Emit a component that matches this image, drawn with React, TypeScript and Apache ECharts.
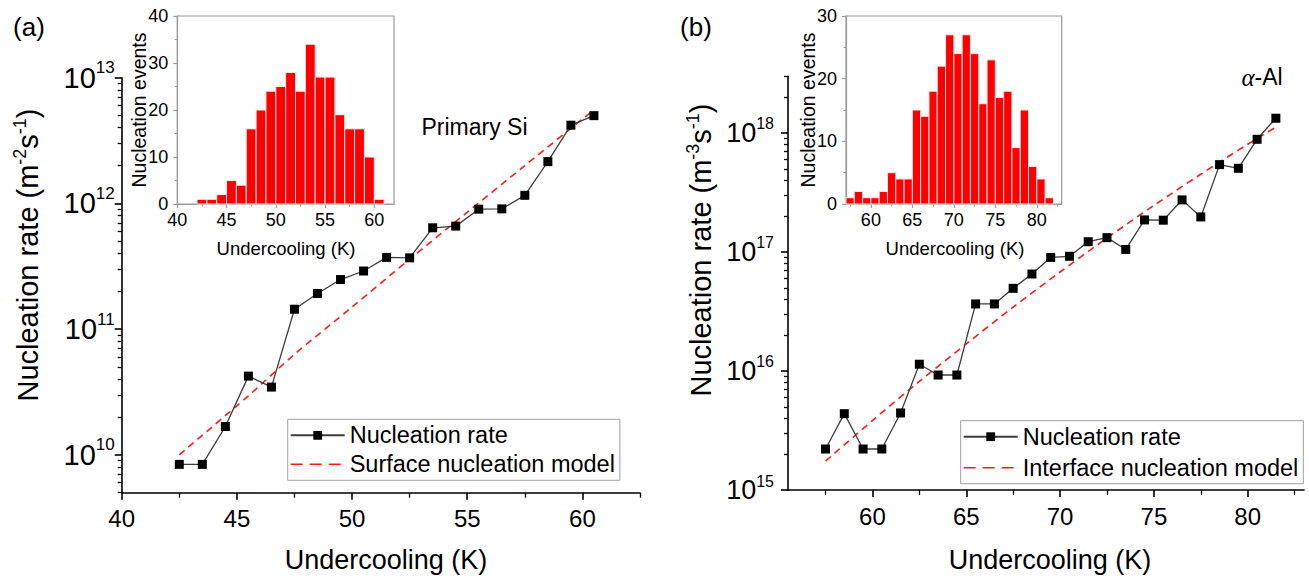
import React, { useEffect, useRef } from "react";
import * as echarts from "echarts";

const FONT = '"Liberation Sans", Arial, Helvetica, sans-serif';

// ---------- (a) Primary Si ----------
const leftUndercooling = [42.5, 43.5, 44.5, 45.5, 46.5, 47.5, 48.5, 49.5, 50.5, 51.5, 52.5, 53.5, 54.5, 55.5, 56.5, 57.5, 58.5, 59.5, 60.5];
const leftRate = [8.4e9, 8.4e9, 1.68e10, 4.23e10, 3.46e10, 1.44e11, 1.92e11, 2.48e11, 2.9e11, 3.72e11, 3.69e11, 6.4e11, 6.6e11, 9.0e11, 9.05e11, 1.16e12, 2.15e12, 4.19e12, 4.99e12];
const leftModelUndercooling = [42.5, 45.5, 47.5, 50, 52.5, 55, 57.5, 60.5];
const leftModelRate = [1.0e10, 2.95e10, 6.3e10, 1.5e11, 3.6e11, 8.5e11, 2.0e12, 5.56e12];
const leftHistBins = [42.5, 43.5, 44.5, 45.5, 46.5, 47.5, 48.5, 49.5, 50.5, 51.5, 52.5, 53.5, 54.5, 55.5, 56.5, 57.5, 58.5, 59.5, 60.5];
const leftHistCounts = [1, 1, 2, 5, 4, 16, 20, 24, 25, 28, 24, 34, 27, 27, 19, 16, 16, 10, 1];

// ---------- (b) alpha-Al ----------
const rightUndercooling = [57.5, 58.5, 59.5, 60.5, 61.5, 62.5, 63.5, 64.5, 65.5, 66.5, 67.5, 68.5, 69.5, 70.5, 71.5, 72.5, 73.5, 74.5, 75.5, 76.5, 77.5, 78.5, 79.5, 80.5, 81.5];
const rightRate = [2.21e15, 4.38e15, 2.21e15, 2.21e15, 4.44e15, 1.14e16, 9.25e15, 9.25e15, 3.66e16, 3.66e16, 4.95e16, 6.53e16, 9.0e16, 9.2e16, 1.22e17, 1.32e17, 1.05e17, 1.86e17, 1.85e17, 2.74e17, 1.97e17, 5.42e17, 5.05e17, 8.85e17, 1.33e18];
const rightModelUndercooling = [57.5, 60, 62.5, 65, 67.5, 70, 72.5, 75, 77.5, 80, 81.5];
const rightModelRate = [1.75e15, 3.83e15, 8.17e15, 1.69e16, 3.44e16, 6.79e16, 1.31e17, 2.46e17, 4.5e17, 8.04e17, 1.12e18];
const rightHistBins = [57.5, 58.5, 59.5, 60.5, 61.5, 62.5, 63.5, 64.5, 65.5, 66.5, 67.5, 68.5, 69.5, 70.5, 71.5, 72.5, 73.5, 74.5, 75.5, 76.5, 77.5, 78.5, 79.5, 80.5, 81.5];
const rightHistCounts = [1, 2, 1, 1, 2, 5, 4, 4, 15, 14, 18, 22, 27, 24, 27, 24, 16, 23, 17, 18, 9, 15, 6, 4, 1];
const BIN_WIDTH = 1;

// ---------- ticks ----------
const leftXTicks = [40, 45, 50, 55, 60];
const leftXMinor = [42.5, 47.5, 52.5, 57.5, 62.5];
const leftYDecades = [10, 11, 12, 13];
const rightXTicks = [60, 65, 70, 75, 80];
const rightXMinor = [57.5, 62.5, 67.5, 72.5, 77.5, 82.5];
const rightYDecades = [15, 16, 17, 18];
const leftInsetXTicks = [40, 45, 50, 55, 60];
const leftInsetXMinor = [42.5, 47.5, 52.5, 57.5];
const rightInsetXTicks = [60, 65, 70, 75, 80];
const rightInsetXMinor = [57.5, 62.5, 67.5, 72.5, 77.5, 82.5];

const lg = (v: number) => Math.log10(v);

function minorLog(lo: number, hi: number): number[] {
  const out: number[] = [];
  for (let n = Math.floor(lg(lo)); n <= Math.ceil(lg(hi)); n++) {
    for (let k = 2; k <= 9; k++) {
      const v = k * Math.pow(10, n);
      if (v >= lo * 0.999 && v <= hi * 1.001) out.push(lg(v));
    }
  }
  return out;
}

const BLACK = "#000";
const GRAY = "#9a9a9a";
const RED = "#ff1a1a";

function xMajor(gridIndex: number, min: number, max: number, ticks: number[], o: any) {
  return {
    gridIndex, type: "value", min, max, position: "bottom",
    axisLine: { show: true, onZero: false, lineStyle: { color: o.color, width: o.width } },
    axisTick: { show: true, customValues: ticks, length: o.tick, lineStyle: { color: o.color, width: o.width } },
    axisLabel: { show: true, customValues: ticks, fontSize: o.fontSize, fontFamily: FONT, color: BLACK, margin: o.margin },
    splitLine: { show: false },
  };
}
function xMinor(gridIndex: number, min: number, max: number, ticks: number[], o: any) {
  return {
    gridIndex, type: "value", min, max, position: "bottom",
    axisLine: { show: false, onZero: false },
    axisTick: { show: true, customValues: ticks, length: o.tick, lineStyle: { color: o.color, width: o.width } },
    axisLabel: { show: false },
    splitLine: { show: false },
  };
}
function yLogMajor(gridIndex: number, min: number, max: number, decades: number[], o: any) {
  return {
    gridIndex, type: "value", min, max, position: "left",
    axisLine: { show: true, onZero: false, lineStyle: { color: BLACK, width: 1.6 } },
    axisTick: { show: true, customValues: decades, length: 7, lineStyle: { color: BLACK, width: 1.6 } },
    axisLabel: {
      show: true, customValues: decades, margin: o.margin,
      formatter: (v: number) => `{b|10}{s|${Math.round(v)}}`,
      rich: {
        b: { fontSize: o.base, fontFamily: FONT, color: BLACK },
        s: { fontSize: o.sup, fontFamily: FONT, color: BLACK, padding: [0, 0, o.raise, 0] },
      },
    },
    splitLine: { show: false },
  };
}
function yMinor(gridIndex: number, min: number, max: number, ticks: number[]) {
  return {
    gridIndex, type: "value", min, max, position: "left",
    axisLine: { show: false, onZero: false },
    axisTick: { show: true, customValues: ticks, length: 4, lineStyle: { color: BLACK, width: 1.3 } },
    axisLabel: { show: false },
    splitLine: { show: false },
  };
}
function yInset(gridIndex: number, max: number) {
  return {
    gridIndex, type: "value", min: 0, max, interval: 10, position: "left",
    axisLine: { show: true, onZero: false, lineStyle: { color: GRAY, width: 1.2 } },
    axisTick: { show: true, length: 4, lineStyle: { color: GRAY, width: 1.2 } },
    minorTick: { show: true, splitNumber: 2, length: 2.5, lineStyle: { color: GRAY, width: 1 } },
    axisLabel: { fontSize: 18, fontFamily: FONT, color: BLACK, margin: 9 },
    splitLine: { show: false },
    minorSplitLine: { show: false },
  };
}

const histRender = (params: any, api: any) => {
  const x = api.value(0);
  const y = api.value(1);
  const p0 = api.coord([x - BIN_WIDTH / 2, y]);
  const p1 = api.coord([x + BIN_WIDTH / 2, 0]);
  return {
    type: "rect",
    shape: { x: p0[0], y: p0[1], width: p1[0] - p0[0], height: p1[1] - p0[1] },
    style: { fill: "#ff0000", stroke: "#ffe8e8", lineWidth: 1 },
  };
};

function textEl(x: number, y: number, text: string, fontSize: number, extra: any = {}) {
  return {
    type: "text", x, y, rotation: extra.rotation || 0, silent: true,
    style: {
      text, fontSize, fontFamily: extra.fontFamily || FONT, fill: BLACK,
      align: "center", verticalAlign: "middle", rich: extra.rich,
    },
  };
}

function legendBox(left: number, top: number, itemGap: number, modelName: string) {
  return {
    data: [
      { name: "Nucleation rate" },
      { name: modelName, itemStyle: { opacity: 0 }, lineStyle: { color: RED, width: 1.6, type: [12, 7] } },
    ],
    orient: "vertical", left, top,
    padding: [4, 5, 4, 2], itemGap, itemWidth: 54, itemHeight: 11,
    textStyle: { fontSize: 23.5, fontFamily: FONT, color: BLACK },
    borderColor: "#a0a0a0", borderWidth: 1, backgroundColor: "#ffffff",
    selectedMode: false,
  };
}

function buildOption() {
  const lMin = lg(5e9), lMax = 13;
  const rMin = 15, rMax = lg(3e18);
  const mainAx = { color: BLACK, width: 1.6, tick: 7, fontSize: 24, margin: 14 };
  const mainMinor = { color: BLACK, width: 1.3, tick: 5 };
  const insAx = { color: GRAY, width: 1.2, tick: 4, fontSize: 18, margin: 7 };
  const insMinor = { color: GRAY, width: 1, tick: 2.5 };
  const lineStyle = { color: "#3c3c3c", width: 1.3 };
  const dash = { color: RED, width: 1.6, type: [7, 5] };
  const noSymbol = { color: "rgba(0,0,0,0)", opacity: 0 };
  const supRich = (size: number, raise: number) => ({
    s: { fontSize: size, fontFamily: FONT, fill: BLACK, color: BLACK, padding: [0, 0, raise, 0] },
  });

  return {
    animation: false,
    backgroundColor: "#ffffff",
    grid: [
      { left: 121.7, top: 77.7, width: 518.3, height: 415 },
      { left: 788, top: 76.2, width: 516, height: 413.8 },
      { left: 177.3, top: 16, width: 216.7, height: 188, show: true, borderColor: GRAY, borderWidth: 1.2, backgroundColor: "transparent" },
      { left: 846, top: 16, width: 215.7, height: 188, show: true, borderColor: GRAY, borderWidth: 1.2, backgroundColor: "transparent" },
    ],
    xAxis: [
      xMajor(0, 40, 62.5, leftXTicks, mainAx),
      xMinor(0, 40, 62.5, leftXMinor, mainMinor),
      xMajor(1, 55.5, 83, rightXTicks, mainAx),
      xMinor(1, 55.5, 83, rightXMinor, mainMinor),
      xMajor(2, 40, 62, leftInsetXTicks, insAx),
      xMinor(2, 40, 62, leftInsetXMinor, insMinor),
      xMajor(3, 57, 83, rightInsetXTicks, insAx),
      xMinor(3, 57, 83, rightInsetXMinor, insMinor),
    ],
    yAxis: [
      yLogMajor(0, lMin, lMax, leftYDecades, { margin: 7, base: 29, sup: 17, raise: 20 }),
      yMinor(0, lMin, lMax, minorLog(5e9, 1e13)),
      yLogMajor(1, rMin, rMax, rightYDecades, { margin: 14, base: 27, sup: 16, raise: 18 }),
      yMinor(1, rMin, rMax, minorLog(1e15, 3e18)),
      yInset(2, 40),
      yInset(3, 30),
    ],
    legend: [
      legendBox(287.7, 419.3, 5, "Surface nucleation model"),
      legendBox(960.7, 420.7, 7, "Interface nucleation model"),
    ],
    series: [
      {
        name: "Surface nucleation model", type: "line", xAxisIndex: 0, yAxisIndex: 0,
        data: leftModelUndercooling.map((x, i) => [x, lg(leftModelRate[i])]),
        showSymbol: false, symbol: "none", smooth: 0.3, lineStyle: dash, itemStyle: noSymbol, z: 2,
      },
      {
        name: "Nucleation rate", type: "line", xAxisIndex: 0, yAxisIndex: 0,
        data: leftUndercooling.map((x, i) => [x, lg(leftRate[i])]),
        symbol: "rect", symbolSize: 9, itemStyle: { color: BLACK }, lineStyle, z: 3,
      },
      {
        name: "Interface nucleation model", type: "line", xAxisIndex: 2, yAxisIndex: 2,
        data: rightModelUndercooling.map((x, i) => [x, lg(rightModelRate[i])]),
        showSymbol: false, symbol: "none", smooth: 0.3, lineStyle: dash, itemStyle: noSymbol, z: 2,
      },
      {
        name: "Nucleation rate", type: "line", xAxisIndex: 2, yAxisIndex: 2,
        data: rightUndercooling.map((x, i) => [x, lg(rightRate[i])]),
        symbol: "rect", symbolSize: 9, itemStyle: { color: BLACK }, lineStyle, z: 3,
      },
      {
        name: "leftHist", type: "custom", xAxisIndex: 4, yAxisIndex: 4,
        data: leftHistBins.map((x, i) => [x, leftHistCounts[i]]),
        renderItem: histRender, z: 2,
      },
      {
        name: "rightHist", type: "custom", xAxisIndex: 6, yAxisIndex: 5,
        data: rightHistBins.map((x, i) => [x, rightHistCounts[i]]),
        renderItem: histRender, z: 2,
      },
    ],
    graphic: [
      textEl(29, 27, "(a)", 26),
      textEl(696, 27, "(b)", 26),
      textEl(474.5, 127, "Primary Si", 23),
      textEl(1262, 77, "{a|α}-Al", 23, {
        rich: { a: { fontSize: 25, fontFamily: '"Liberation Serif", "Times New Roman", serif', fontStyle: "italic", fill: BLACK, color: BLACK } },
      }),
      textEl(28, 255, "Nucleation rate (m{s|-2}s{s|-1})", 29, { rotation: Math.PI / 2, rich: supRich(18, 16) }),
      textEl(700.5, 250, "Nucleation rate (m{s|-3}s{s|-1})", 29, { rotation: Math.PI / 2, rich: supRich(18, 16) }),
      textEl(386, 560, "Undercooling (K)", 27),
      textEl(1050, 560, "Undercooling (K)", 27),
      textEl(138.5, 110, "Nucleation events", 19.5, { rotation: Math.PI / 2 }),
      textEl(807.5, 110, "Nucleation events", 19.5, { rotation: Math.PI / 2 }),
      textEl(286, 248, "Undercooling (K)", 18.5),
      textEl(955, 248, "Undercooling (K)", 18.5),
    ],
  };
}

export default function App() {
  const ref = useRef<HTMLDivElement | null>(null);
  useEffect(() => {
    if (!ref.current) return;
    const chart = echarts.init(ref.current, undefined, { renderer: "svg" });
    chart.setOption(buildOption() as any);
    return () => chart.dispose();
  }, []);
  return (
    <div
      ref={ref}
      style={{ position: "fixed", left: 0, top: 0, width: 1309, height: 579, background: "#fff" }}
    />
  );
}
